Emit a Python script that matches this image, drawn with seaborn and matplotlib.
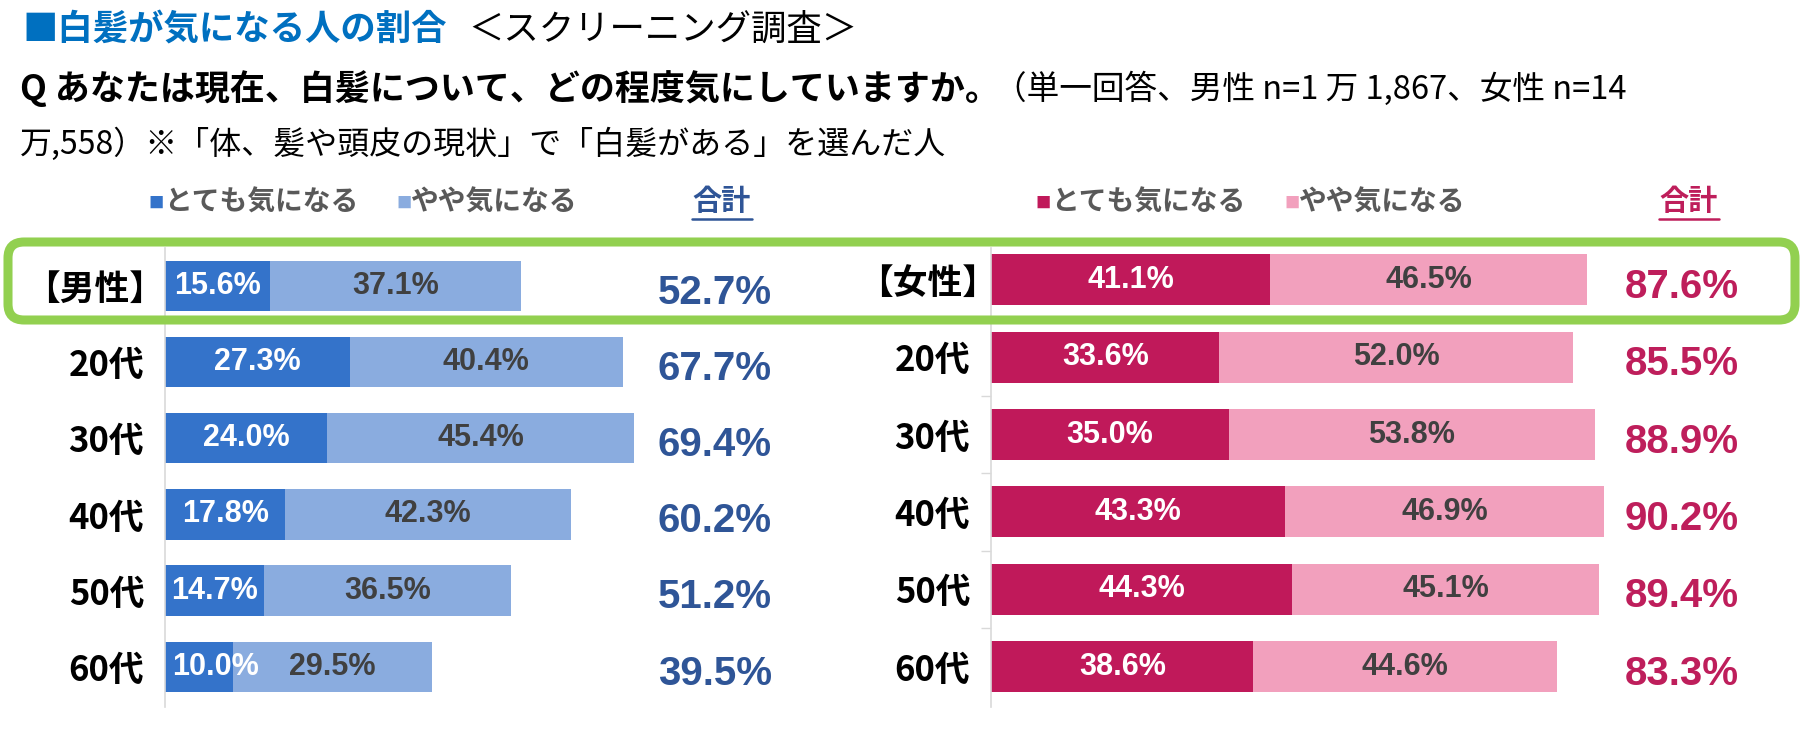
import matplotlib
matplotlib.use('Agg')
import matplotlib.pyplot as plt
import seaborn as sns
import pandas as pd
from matplotlib.patches import FancyBboxPatch
from matplotlib.lines import Line2D
from matplotlib.transforms import IdentityTransform

# data
groups_m = ['【男性】', '20代', '30代', '40代', '50代', '60代']
groups_f = ['【女性】', '20代', '30代', '40代', '50代', '60代']
male_very = [15.6, 27.3, 24.0, 17.8, 14.7, 10.0]
male_some = [37.1, 40.4, 45.4, 42.3, 36.5, 29.5]
male_total = [52.7, 67.7, 69.4, 60.2, 51.2, 39.5]
female_very = [41.1, 33.6, 35.0, 43.3, 44.3, 38.6]
female_some = [46.5, 52.0, 53.8, 46.9, 45.1, 44.6]
female_total = [87.6, 85.5, 88.9, 90.2, 89.4, 83.3]
legend_labels = ['とても気になる', 'やや気になる']

sns.set_theme(style='white')
JP = ['Noto Sans CJK JP', 'DejaVu Sans']
NUM = ['Liberation Sans', 'DejaVu Sans']
plt.rcParams['font.family'] = JP

W, H = 1812, 736
fig = plt.figure(figsize=(W / 100, H / 100), dpi=100)
renderer = fig.canvas.get_renderer()


def px(x, y):
    # pixel position (from top-left) -> figure fraction
    return x / W, 1 - y / H


def after(t, gap=0):
    # x pixel right after an already placed text
    return t.get_window_extent(renderer).x1 + gap


def draw_panel(ax, groups, very, some, total, dark, light, tot_color, tot_x, ylim, minor, first_shift):
    df = pd.DataFrame({'group': groups, 'very': very, 'some': some})
    df['stack'] = df['very'] + df['some']
    sns.barplot(data=df, x='stack', y='group', color=light, width=0.66, linewidth=0,
                saturation=1, errorbar=None, ax=ax)
    sns.barplot(data=df, x='very', y='group', color=dark, width=0.66, linewidth=0,
                saturation=1, errorbar=None, ax=ax)
    for i, row in df.iterrows():
        if row.very < 12:
            ax.text(1.0, i, f'{row.very:.1f}%', ha='left', va='center', color='white',
                    fontsize=22, fontweight='bold', family=NUM)
        else:
            ax.text(row.very / 2, i, f'{row.very:.1f}%', ha='center', va='center', color='white',
                    fontsize=22, fontweight='bold', family=NUM)
        ax.text(row.very + row.some / 2, i, f'{row.some:.1f}%', ha='center', va='center',
                color='#404040', fontsize=22, fontweight='bold', family=NUM)
        ax.text(tot_x, i + 0.09, f'{total[i]:.1f}%', ha='right', va='center', color=tot_color,
                fontsize=29, fontweight='bold', family=NUM, clip_on=False)
    ax.set_xlim(0, 100)
    ax.set_ylim(*ylim)
    ax.set_xlabel('')
    ax.set_ylabel('')
    ax.set_xticks([])
    ax.set_yticks(range(len(groups)))
    ax.set_yticklabels(groups, fontsize=25, fontweight='bold', color='black', family=JP)
    ax.tick_params(axis='y', length=0, pad=15)
    ax.get_yticklabels()[0].set_x(first_shift)
    if minor:
        ax.set_yticks([0.5, 1.5, 2.5, 3.5, 4.5], minor=True)
        ax.tick_params(axis='y', which='minor', length=7, color='#D9D9D9', width=1, left=True)
    for s in ['top', 'right', 'bottom']:
        ax.spines[s].set_visible(False)
    ax.spines['left'].set_color('#D9D9D9')
    ax.spines['left'].set_linewidth(1.2)
    ax.patch.set_alpha(0)


ax_m = fig.add_axes([165 / W, 29 / H, 676 / W, 459 / H])
ax_f = fig.add_axes([991 / W, 29 / H, 680 / W, 459 / H])

draw_panel(ax_m, groups_m, male_very, male_some, male_total, '#3473CA', '#8AACDF', '#2F5597',
           89.8, (5.53, -0.5), False, 0.03)
draw_panel(ax_f, groups_f, female_very, female_some, female_total, '#C0195A', '#F2A0BD', '#BE1E5B',
           110, (5.52, -0.41), True, 0.04)

# titles
t = fig.text(*px(22, 30), '■白髪が気になる人の割合', color='#0070C0', fontsize=25.5, fontweight='bold',
             va='center', ha='left')
fig.text(after(t, 22) / W, 1 - 30 / H, '＜スクリーニング調査＞', color='black', fontsize=25.5,
         va='center', ha='left')
t = fig.text(*px(20, 89), 'Q あなたは現在、白髪について、どの程度気にしていますか。', color='black',
             fontsize=25.2, fontweight='bold', va='center', ha='left')
fig.text(after(t, -6) / W, 1 - 89 / H, '（単一回答、男性 n=1 万 1,867、女性 n=14', color='black',
         fontsize=23.5, va='center', ha='left')
fig.text(*px(20, 144), '万,558）※「体、髪や頭皮の現状」で「白髪がある」を選んだ人', color='black',
         fontsize=23, va='center', ha='left')

# legends
legend_pos = [
    (148, 164, 396, 411, 692, '#3473CA', '#8AACDF', '#2F5597'),
    (1035, 1051, 1284, 1299, 1659, '#C0195A', '#F2A0BD', '#BE1E5B'),
]
for sq1, t1, sq2, t2, tot, dark, light, tcol in legend_pos:
    fig.text(*px(sq1, 203), '■', color=dark, fontsize=11, va='center', ha='left')
    fig.text(*px(t1, 203), legend_labels[0], color='#595959', fontsize=20, fontweight='bold',
             va='center', ha='left')
    fig.text(*px(sq2, 203), '■', color=light, fontsize=11, va='center', ha='left')
    fig.text(*px(t2, 203), legend_labels[1], color='#595959', fontsize=20, fontweight='bold',
             va='center', ha='left')
    fig.text(*px(tot, 201), '合計', color=tcol, fontsize=21, fontweight='bold', va='center', ha='left')
    fig.add_artist(Line2D([tot, tot + 60], [H - 219, H - 219], color=tcol, linewidth=1.8,
                          transform=IdentityTransform()))

# green highlight box around the totals row
box = FancyBboxPatch((8, H - 320), 1787, 78, boxstyle='round,pad=0,rounding_size=16',
                     fill=False, edgecolor='#92D050', linewidth=6.5, transform=IdentityTransform())
fig.add_artist(box)

fig.savefig('out.png', dpi=100)
